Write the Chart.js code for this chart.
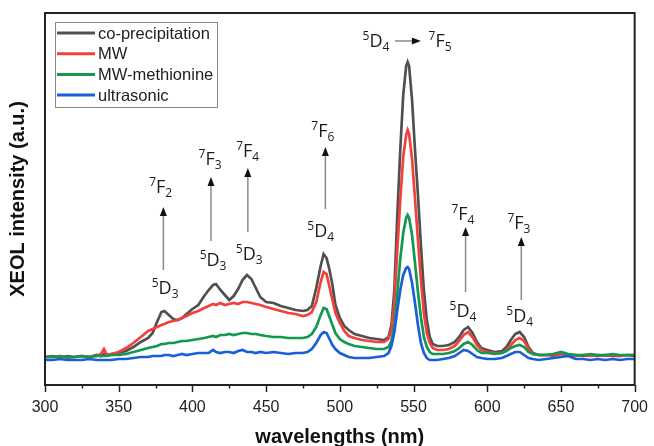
<!DOCTYPE html>
<html>
<head>
<meta charset="utf-8">
<script src="https://cdn.jsdelivr.net/npm/chart.js@4/dist/chart.umd.min.js"></script>
<style>
  html, body { margin: 0; padding: 0; background: #fff; }
  #wrap { width: 654px; height: 446px; }
</style>
</head>
<body>
<div id="wrap"><canvas id="xeol"></canvas></div>
<script>
// wavelengths (nm), shared by all four spectra
var wavelengths = [
  300,305,310,315,320,325,330,335,338,340,
  342,345,350,355,360,365,370,373,376,379,
  381,384,387,390,393,396,400,404,408,411,
  414,416,419,422,425,428,431,434,437,440,
  443,446,450,455,460,465,470,475,478,481,
  484,487,489,491,493,495,497,500,503,506,
  510,515,520,525,530,533,535,537,539,541,
  543,545,546,547,549,551,553,555,557,559,
  561,563,566,570,574,578,581,584,587,590,
  593,596,600,605,610,613,616,619,622,625,
  628,631,635,640,645,650,655,660,665,670,
  675,680,685,690,695,700
];
var coPrecipitation = [
  38,39,37,39,38,39,38,40,39,41,
  40,41,42,44,48,53,57,62,73,83,
  84,80,76,75,77,81,86,90,99,105,
  110,111,105,100,95,99,106,115,120,116,
  107,98,93,92,89,87,85,84,85,89,
  107,129,141,137,125,110,90,77,69,65,
  61,59,57,56,55,58,70,105,180,245,
  300,329,333,329,295,245,200,150,105,75,
  58,51,49,49,50,53,58,65,68,62,
  53,47,45,43,44,48,55,61,63,58,
  48,42,40,40,41,41,40,40,39,40,
  39,40,39,39,40,39
];
var mw = [
  38,38,39,37,38,39,38,39,41,46,
  40,41,43,47,52,58,64,66,68,70,
  71,73,74,75,77,79,82,84,87,89,
  91,90,92,90,91,92,91,93,93,92,
  91,90,88,86,84,82,81,79,80,83,
  93,113,123,121,108,95,82,72,64,59,
  57,55,54,53,53,56,65,92,145,195,
  238,260,265,261,236,196,155,115,82,62,
  52,47,45,45,46,49,54,60,63,58,
  50,45,43,42,42,45,50,55,57,54,
  46,41,40,40,39,41,40,39,40,39,
  40,39,40,39,40,40
];
var mwMethionine = [
  38,38,39,38,38,39,38,39,39,39,
  39,40,40,41,43,45,47,48,49,51,
  51,52,52,53,54,54,55,56,57,58,
  59,58,60,60,61,60,61,62,62,61,
  61,60,59,58,58,57,57,57,58,61,
  68,80,87,86,78,70,62,56,53,51,
  49,48,47,46,46,48,54,70,102,136,
  162,177,180,177,160,132,103,78,58,48,
  43,41,41,41,42,44,47,51,53,50,
  45,42,42,41,42,44,47,49,50,48,
  43,41,40,40,41,43,41,40,40,41,
  40,40,41,40,40,40
];
var ultrasonic = [
  35,35,36,35,35,35,36,35,35,35,
  35,35,36,36,37,38,38,39,39,39,
  40,40,39,40,41,40,41,42,42,42,
  45,43,42,43,43,42,44,45,43,43,
  42,43,42,43,42,41,42,42,43,46,
  52,60,63,62,56,50,46,42,40,38,
  37,37,37,38,39,42,49,63,85,105,
  120,127,128,126,112,92,70,52,42,37,
  35,35,35,36,37,39,42,45,44,41,
  38,37,36,36,37,39,41,43,43,40,
  37,36,35,36,37,38,39,36,36,35,
  36,35,36,35,36,36
];
var seriesNames = ["co-precipitation", "MW", "MW-methionine", "ultrasonic"];
var seriesColors = ["#505050", "#f2403c", "#12994f", "#1b5fd8"];
var xTicks = [300, 350, 400, 450, 500, 550, 600, 650, 700];

// transition labels, placed in data units (nm, intensity)
var levels = [
  {nm: 378.5, v: 202, sup: "7", main: "F", sub: "2"},
  {nm: 381.5, v: 101, sup: "5", main: "D", sub: "3"},
  {nm: 412, v: 230, sup: "7", main: "F", sub: "3"},
  {nm: 414, v: 129, sup: "5", main: "D", sub: "3"},
  {nm: 437.5, v: 238, sup: "7", main: "F", sub: "4"},
  {nm: 438.5, v: 135, sup: "5", main: "D", sub: "3"},
  {nm: 488.5, v: 258, sup: "7", main: "F", sub: "6"},
  {nm: 487, v: 158, sup: "5", main: "D", sub: "4"},
  {nm: 524.5, v: 348, sup: "5", main: "D", sub: "4"},
  {nm: 568, v: 348, sup: "7", main: "F", sub: "5"},
  {nm: 583.5, v: 175, sup: "7", main: "F", sub: "4"},
  {nm: 583.5, v: 78, sup: "5", main: "D", sub: "4"},
  {nm: 621.5, v: 166, sup: "7", main: "F", sub: "3"},
  {nm: 622, v: 73, sup: "5", main: "D", sub: "4"}
];
var upArrows = [
  {nm: 380.3, from: 125, to: 188},
  {nm: 412.6, from: 154, to: 218},
  {nm: 437.6, from: 163, to: 227},
  {nm: 490.2, from: 186, to: 248},
  {nm: 585.3, from: 103, to: 168},
  {nm: 623.1, from: 95, to: 158}
];
var sideArrow = {from: 537.4, to: 555, v: 354};

function makeData(vals) {
  var pts = [];
  for (var i = 0; i < wavelengths.length; i++) {
    pts.push({x: wavelengths[i], y: vals[i]});
  }
  return pts;
}

function drawTerm(ctx, cx, by, t) {
  ctx.font = "12px 'Open Sans'";
  var wSup = ctx.measureText(t.sup).width;
  var wSub = ctx.measureText(t.sub).width;
  ctx.font = "18px 'Open Sans'";
  var wMain = ctx.measureText(t.main).width;
  var x = cx - (wSup + wMain + wSub) / 2;
  ctx.textAlign = "left";
  ctx.textBaseline = "alphabetic";
  ctx.font = "12px 'Open Sans'";
  ctx.fillText(t.sup, x, by - 7);
  ctx.font = "18px 'Open Sans'";
  ctx.fillText(t.main, x + wSup, by);
  ctx.font = "12px 'Open Sans'";
  ctx.fillText(t.sub, x + wSup + wMain, by + 4);
}

var extras = {
  id: "extras",
  afterDraw: function(chart) {
    var ctx = chart.ctx;
    var a = chart.chartArea;
    var xs = chart.scales.x, ys = chart.scales.y;
    ctx.save();

    // frame
    ctx.strokeStyle = "#222";
    ctx.lineWidth = 2;
    ctx.strokeRect(a.left, a.top, a.right - a.left, a.bottom - a.top);

    // major / minor ticks below the axis
    ctx.lineWidth = 1.5;
    for (var w = 300; w <= 700; w += 25) {
      var px = Math.round(xs.getPixelForValue(w)) + 0.5;
      var len = (w % 50 === 0) ? 7 : 3.5;
      ctx.beginPath();
      ctx.moveTo(px, a.bottom);
      ctx.lineTo(px, a.bottom + len);
      ctx.stroke();
    }

    // legend box
    var lx = a.left + 10, ly = a.top + 9;
    ctx.strokeStyle = "#888";
    ctx.lineWidth = 1;
    ctx.strokeRect(lx + 0.5, ly + 0.5, 162, 85);
    ctx.font = "16.5px 'Liberation Sans', Arial, sans-serif";
    ctx.textBaseline = "middle";
    ctx.textAlign = "left";
    chart.data.datasets.forEach(function(ds, i) {
      var yy = ly + 11 + i * 20.7;
      ctx.strokeStyle = ds.borderColor;
      ctx.lineWidth = 3;
      ctx.beginPath();
      ctx.moveTo(lx + 2, yy);
      ctx.lineTo(lx + 40, yy);
      ctx.stroke();
      ctx.fillStyle = "#222";
      ctx.fillText(ds.label, lx + 43, yy + 1);
    });

    // transition arrows
    ctx.strokeStyle = "#8a8a8a";
    ctx.fillStyle = "#111";
    ctx.lineWidth = 1.5;
    upArrows.forEach(function(ar) {
      var x = xs.getPixelForValue(ar.nm);
      var y0 = ys.getPixelForValue(ar.from);
      var y1 = ys.getPixelForValue(ar.to);
      ctx.beginPath();
      ctx.moveTo(x, y0);
      ctx.lineTo(x, y1 + 8);
      ctx.stroke();
      ctx.beginPath();
      ctx.moveTo(x, y1);
      ctx.lineTo(x - 3.5, y1 + 9);
      ctx.lineTo(x + 3.5, y1 + 9);
      ctx.closePath();
      ctx.fill();
    });
    var hx0 = xs.getPixelForValue(sideArrow.from);
    var hx1 = xs.getPixelForValue(sideArrow.to);
    var hy = ys.getPixelForValue(sideArrow.v);
    ctx.beginPath();
    ctx.moveTo(hx0, hy);
    ctx.lineTo(hx1 - 8, hy);
    ctx.stroke();
    ctx.beginPath();
    ctx.moveTo(hx1, hy);
    ctx.lineTo(hx1 - 9, hy - 3.5);
    ctx.lineTo(hx1 - 9, hy + 3.5);
    ctx.closePath();
    ctx.fill();

    // level labels
    ctx.fillStyle = "#1a1a1a";
    levels.forEach(function(t) {
      drawTerm(ctx, xs.getPixelForValue(t.nm), ys.getPixelForValue(t.v), t);
    });
    ctx.restore();
  }
};

var allSeries = [coPrecipitation, mw, mwMethionine, ultrasonic];
var datasets = [];
for (var s = 0; s < allSeries.length; s++) {
  datasets.push({
    label: seriesNames[s],
    data: makeData(allSeries[s]),
    borderColor: seriesColors[s],
    backgroundColor: seriesColors[s],
    borderWidth: 2.7,
    pointRadius: 0,
    tension: 0,
    order: allSeries.length - s
  });
}

new Chart(document.getElementById("xeol"), {
  type: "line",
  data: {datasets: datasets},
  plugins: [extras],
  options: {
    responsive: true,
    maintainAspectRatio: false,
    animation: false,
    layout: {padding: {top: 13, right: 16, bottom: 0, left: 0}},
    plugins: {legend: {display: false}, tooltip: {enabled: false}},
    scales: {
      x: {
        type: "linear",
        min: 300,
        max: 700,
        afterBuildTicks: function(scale) {
          scale.ticks = xTicks.map(function(v) { return {value: v}; });
        },
        afterFit: function(scale) { scale.height = 61; },
        grid: {display: false, drawTicks: true, tickLength: 7},
        border: {display: false},
        ticks: {
          padding: 6,
          color: "#222",
          font: {family: "'Liberation Sans', Arial, sans-serif", size: 16}
        },
        title: {
          display: true,
          text: "wavelengths (nm)",
          color: "#111",
          padding: {top: 0, bottom: 0},
          font: {family: "'Liberation Sans', Arial, sans-serif", size: 20, weight: "bold", lineHeight: 0.9}
        }
      },
      y: {
        min: 10,
        max: 382,
        afterFit: function(scale) { scale.width = 45; },
        grid: {display: false},
        border: {display: false},
        ticks: {display: false},
        title: {
          display: true,
          text: "XEOL intensity (a.u.)",
          color: "#111",
          padding: {top: 6, bottom: 0},
          font: {family: "'Liberation Sans', Arial, sans-serif", size: 20, weight: "bold", lineHeight: 1.2}
        }
      }
    }
  }
});
</script>
</body>
</html>
